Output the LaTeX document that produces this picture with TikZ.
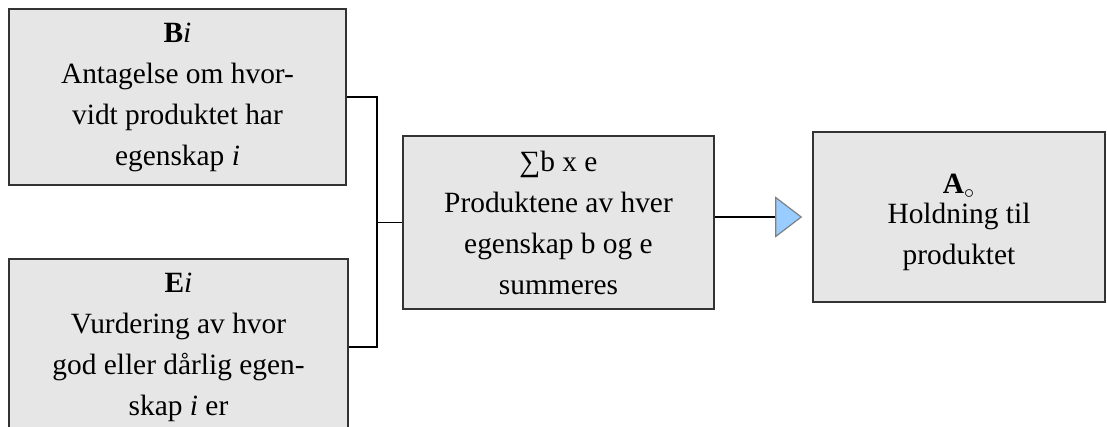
\documentclass[tikz,border=0pt]{standalone}
\usepackage{fontspec}
\setmainfont{Liberation Serif}
\usetikzlibrary{arrows.meta}
\definecolor{boxgray}{HTML}{E6E6E6}
\definecolor{tipblue}{HTML}{99CCFF}

\begin{document}
\begin{tikzpicture}[x=0.5pt,y=-0.5pt,
  box/.style={rectangle,draw=black!80,fill=boxgray,line width=0.8pt,
    inner sep=0pt,align=center,font=\fontsize{14.7}{20.5}\selectfont},
  arr/.style={line width=0.75pt}]
  \useasboundingbox (0,0) rectangle (1107,427);

  \node[box,minimum width=168.5pt,minimum height=88pt] (belief) at (177.5,97)
    {\textbf{B}\textit{i}\\Antagelse om hvor-\\vidt produktet har\\egenskap \textit{i}};
  \node[box,minimum width=169.5pt,minimum height=88pt] (eval) at (178.5,347)
    {\textbf{E}\textit{i}\\Vurdering av hvor\\god eller dårlig egen-\\skap \textit{i} er};
  \node[box,minimum width=155.5pt,minimum height=86.5pt] (sum) at (558.5,222.5)
    {∑b x e\\Produktene av hver\\egenskap b og e\\summeres};
  \node[box,minimum width=146pt,minimum height=85pt] (attitude) at (959,217)
    {\rule{0pt}{15.5pt}\textbf{A}$_\circ$\\[-5.5pt]Holdning til\\produktet};

  \coordinate (fork) at (377,222.5);

  \draw[arr] (belief.east) -| (fork) |- (eval.east);
  \draw[arr] (fork) -- (sum.west);
  \draw[arr,-{Triangle[length=13.5pt,width=20.5pt,fill=tipblue,color=black!50,line width=0.6pt]},shorten >=5pt]
    (sum.east |- attitude.west) -- (attitude.west);
\end{tikzpicture}
\end{document}
